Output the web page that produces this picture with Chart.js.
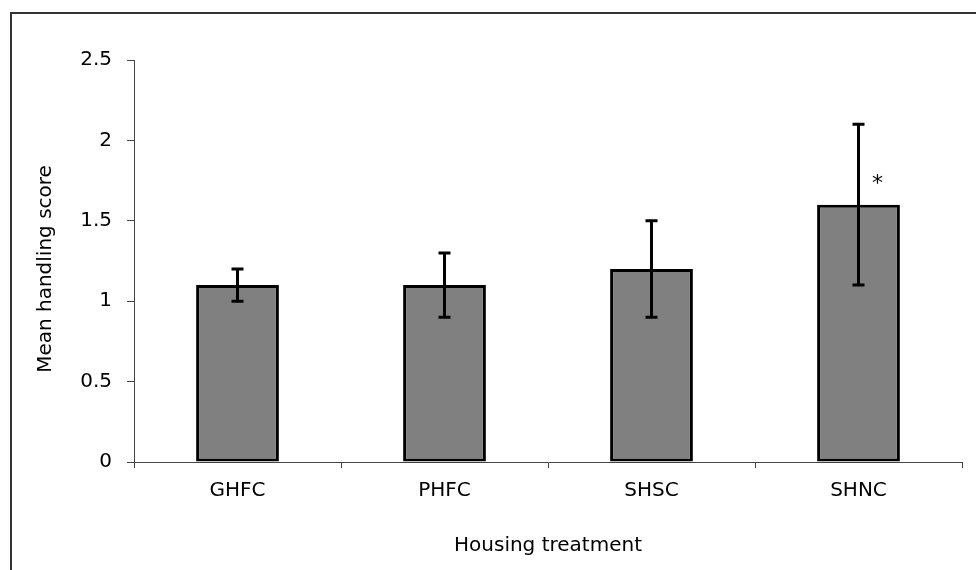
<!DOCTYPE html>
<html>
<head>
<meta charset="utf-8">
<script src="https://cdn.jsdelivr.net/npm/chart.js@4"></script>
<style>
    html, body { margin: 0; padding: 0; background: #fff; }
    #wrap { width: 976px; height: 570px; }
</style>
</head>
<body>
<div id="wrap"><canvas id="bar_chart"></canvas></div>
<script>
var categories = ["GHFC", "PHFC", "SHSC", "SHNC"];
var meanScores = [1.1, 1.1, 1.2, 1.6];
var errLow = [1.0, 0.9, 0.9, 1.1];
var errHigh = [1.2, 1.3, 1.5, 2.1];
var marks = ["", "", "", "*"];
var yTicks = [0, 0.5, 1, 1.5, 2, 2.5];
var yTitle = "Mean handling score";

var FONT = "'DejaVu Sans', Verdana, sans-serif";

// frame, y title, error bars and significance marks
var extras = {
    id: 'extras',
    beforeDraw: function (chart) {
        var ctx = chart.ctx;
        ctx.save();
        ctx.strokeStyle = '#333';
        ctx.lineWidth = 2;
        ctx.beginPath();
        ctx.moveTo(11, 570);
        ctx.lineTo(11, 13);
        ctx.lineTo(976, 13);
        ctx.stroke();
        // y title sits a little below the middle of the axis in the original
        var a = chart.chartArea;
        ctx.translate(46, (a.top + a.bottom) / 2 + 8);
        ctx.rotate(-Math.PI / 2);
        ctx.fillStyle = '#000';
        ctx.font = '20px ' + FONT;
        ctx.textAlign = 'center';
        ctx.textBaseline = 'middle';
        ctx.fillText(yTitle, 0, 0);
        ctx.restore();
    },
    afterDatasetsDraw: function (chart) {
        var ctx = chart.ctx;
        var xs = chart.scales.x, ys = chart.scales.y;
        ctx.save();
        ctx.strokeStyle = '#000';
        ctx.lineWidth = 3;
        for (var i = 0; i < categories.length; i++) {
            var x = xs.getPixelForValue(i);
            var lo = ys.getPixelForValue(errLow[i]);
            var hi = ys.getPixelForValue(errHigh[i]);
            ctx.beginPath();
            ctx.moveTo(x, lo); ctx.lineTo(x, hi);
            ctx.moveTo(x - 6, lo); ctx.lineTo(x + 6, lo);
            ctx.moveTo(x - 6, hi); ctx.lineTo(x + 6, hi);
            ctx.stroke();
            if (marks[i]) {
                ctx.fillStyle = '#000';
                ctx.font = '22px ' + FONT;
                ctx.textAlign = 'center';
                ctx.textBaseline = 'alphabetic';
                ctx.fillText(marks[i], x + 19, ys.getPixelForValue((meanScores[i] + errHigh[i]) / 2) + 25);
            }
        }
        ctx.restore();
    }
};

new Chart(document.getElementById("bar_chart").getContext("2d"), {
    type: 'bar',
    data: {
        labels: categories,
        datasets: [{
            label: yTitle,
            data: meanScores,
            backgroundColor: '#808080',
            borderColor: '#000',
            borderWidth: 3,
            borderSkipped: false,
            categoryPercentage: 1,
            barPercentage: 0.4
        }]
    },
    options: {
        responsive: true,
        maintainAspectRatio: false,
        animation: false,
        layout: { padding: { left: 0, top: 60, right: 14, bottom: 0 } },
        plugins: { legend: { display: false }, tooltip: { enabled: false } },
        scales: {
            x: {
                grid: { drawOnChartArea: false, drawTicks: true, tickLength: 6, color: '#444', offset: true },
                border: { color: '#444', width: 1 },
                ticks: { color: '#000', font: { family: FONT, size: 20 }, padding: 11 },
                title: { display: true, text: 'Housing treatment', color: '#000', font: { family: FONT, size: 20 }, padding: { top: 10, bottom: 12 } },
                afterFit: function (s) { s.height = 108; }
            },
            y: {
                min: 0,
                max: 2.5,
                afterBuildTicks: function (s) { s.ticks = yTicks.map(function (v) { return { value: v }; }); },
                grid: { drawOnChartArea: false, drawTicks: true, tickLength: 7, color: '#444' },
                border: { color: '#444', width: 1 },
                ticks: {
                    color: '#000', font: { family: FONT, size: 20 }, padding: 15,
                    callback: function (v) { return String(v); }
                },
                afterFit: function (s) { s.width = 134; }
            }
        }
    },
    plugins: [extras]
});
</script>
</body>
</html>
